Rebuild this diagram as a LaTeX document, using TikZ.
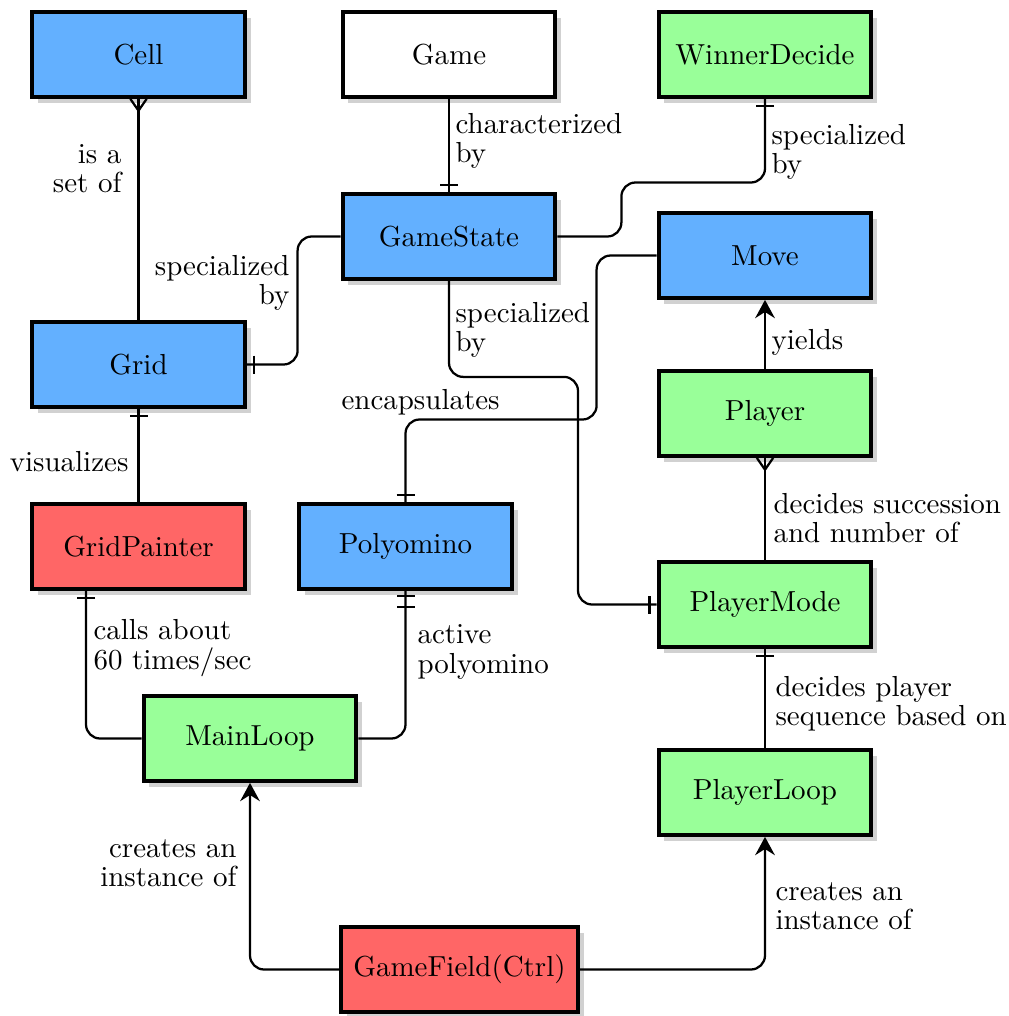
\documentclass[tikz,border=0pt]{standalone}
\usetikzlibrary{arrows.meta,shadows,decorations.markings,calc}
\definecolor{boxblue}{RGB}{99,176,255}
\definecolor{boxgreen}{RGB}{153,255,153}
\definecolor{boxred}{RGB}{255,102,102}
\begin{document}
\begin{tikzpicture}[x=0.0125cm,y=-0.0125cm,
  entity/.style={draw=black, line width=1.4pt, minimum width=2.66cm, minimum height=1.06cm,
    inner xsep=0.155cm, font=\fontsize{10.3}{12}\selectfont,
    drop shadow={shadow xshift=2pt,shadow yshift=-2pt,fill=black!18,opacity=1}},
  eblue/.style={entity, fill=boxblue},
  egreen/.style={entity, fill=boxgreen},
  ered/.style={entity, fill=boxred},
  ewhite/.style={entity, fill=white},
  conn/.style={line width=0.8pt, rounded corners=5pt},
  lbl/.style={inner sep=0pt, font=\fontsize{10.3}{10.4}\selectfont},
  barend/.style={postaction={decorate,decoration={markings,
    mark=at position 1 with {\draw[line width=0.8pt,sharp corners] (-2.5pt,-3.2pt) -- (-2.5pt,3.2pt);}}}},
  dbarend/.style={postaction={decorate,decoration={markings,
    mark=at position 1 with {\draw[line width=0.8pt,sharp corners] (-1.9pt,-3.2pt) -- (-1.9pt,3.2pt)
      (-5.6pt,-3.2pt) -- (-5.6pt,3.2pt);}}}},
  crowend/.style={postaction={decorate,decoration={markings,
    mark=at position 1 with {\draw[line width=0.8pt,sharp corners] (0,-2.9pt) -- (-4.2pt,0) -- (0,2.9pt);}}}},
  arrend/.style={-{Stealth[length=6.5pt,width=7pt,inset=2.2pt]}}
]
\useasboundingbox (0,0) rectangle (1009,1016);

% entities
\node[eblue]  (Cell)         at (138.5,54.5)  {Cell};
\node[ewhite] (Game)         at (449,54.5)    {Game};
\node[egreen] (WinnerDecide) at (765,54.5)    {WinnerDecide};
\node[eblue]  (GameState)    at (449,236.5)   {GameState};
\node[eblue]  (Move)         at (765,255.5)   {Move};
\node[eblue]  (Grid)         at (138.5,364.5) {Grid};
\node[egreen] (Player)       at (765,413.5)   {Player};
\node[ered]   (GridPainter)  at (138.5,546.5) {GridPainter};
\node[eblue]  (Polyomino)    at (405.5,546.5) {Polyomino};
\node[egreen] (PlayerMode)   at (765,604.5)   {PlayerMode};
\node[egreen] (MainLoop)     at (250,738.5)   {MainLoop};
\node[egreen] (PlayerLoop)   at (765,792.5)   {PlayerLoop};
\node[ered]   (GameField)    at (459.5,969.5) {GameField(Ctrl)};

% connectors
\draw[conn,crowend] (Grid.north) -- (Cell.south);
\draw[conn,barend] (Game.south) -- (GameState.north);
\draw[conn,barend] (GameState.east) -- ++(64,0) -- ++(0,-54) -| (WinnerDecide.south);
\draw[conn,barend] (GameState.west) -- ++(-43,0) |- (Grid.east);
\draw[conn,barend] (GameState.south) -- ++(0,96) -- ++(129,0) |- (PlayerMode.west);
\draw[conn,barend] (Move.west) -- ++(-60,0) -- ++(0,164) -| (Polyomino.north);
\draw[conn,arrend] (Player.north) -- (Move.south);
\draw[conn,crowend] (PlayerMode.north) -- (Player.south);
\draw[conn,barend] (PlayerLoop.north) -- (PlayerMode.south);
\draw[conn,barend] (GridPainter.north) -- (Grid.south);
\draw[conn,barend] (MainLoop.west) -| ($(GridPainter.south)+(-52.5,0)$);
\draw[conn,dbarend] (MainLoop.east) -| (Polyomino.south);
\draw[conn,arrend] (GameField.west) -| (MainLoop.south);
\draw[conn,arrend] (GameField.east) -| (PlayerLoop.south);

% labels
\node[lbl,anchor=east,align=right] (l1) at (122,169) {is a\\set of};
\node[lbl,anchor=west,align=left] (l2) at (455,141) {characterized\\by};
\node[lbl,anchor=west,align=left] (l3) at (771,152) {specialized\\by};
\node[lbl,anchor=east,align=right] (l4) at (290,283) {specialized\\by};
\node[lbl,anchor=west,align=left] (l5) at (455,330) {specialized\\by};
\node[lbl,anchor=west] (l6) at (341,402) {encapsulates};
\node[lbl,anchor=west] (l7) at (771,342) {yields};
\node[lbl,anchor=west,align=left] (l8) at (773,518) {decides succession\\and number of};
\node[lbl,anchor=west,align=left] (l9) at (775,704) {decides player\\sequence based on};
\node[lbl,anchor=east] (l10) at (129,462) {visualizes};
\node[lbl,anchor=west,align=left] (l11) at (93,648) {calls about\\60 times/sec};
\node[lbl,anchor=west,align=left] (l12) at (417,652) {active\\polyomino};
\node[lbl,anchor=east,align=right] (l13) at (237,863) {creates an\\instance of};
\node[lbl,anchor=west,align=left] (l14) at (775,906) {creates an\\instance of};
\end{tikzpicture}
\end{document}
